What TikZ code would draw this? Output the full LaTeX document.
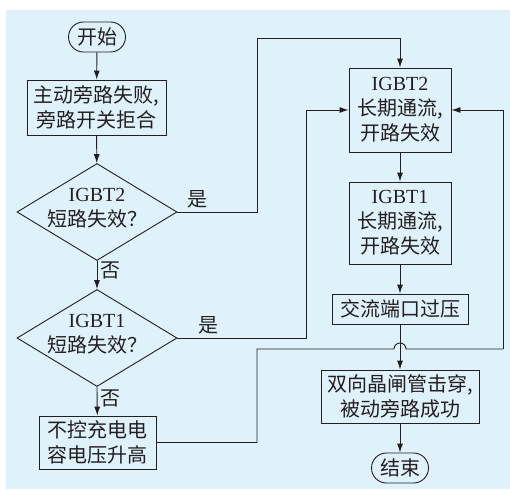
\documentclass[tikz,border=0pt]{standalone}
\usepackage{fontspec}
\setmainfont{Liberation Serif}
\newfontfamily\cjk{Noto Sans CJK SC}
\usetikzlibrary{shapes.geometric,arrows.meta,calc}
\definecolor{bgblue}{RGB}{223,241,250}
\definecolor{ink}{RGB}{35,31,32}
\tikzset{
  txt/.style={text=ink, font=\fontsize{20pt}{25pt}\selectfont},
  proc/.style={txt, draw=ink, line width=0.9pt, rectangle, align=center, inner sep=1pt},
  term/.style={proc, rounded corners=15pt, minimum width=57pt, minimum height=30pt},
  decide/.style={draw=ink, line width=0.9pt, diamond, minimum width=160pt, minimum height=97pt, inner sep=0pt},
  line/.style={draw=ink, line width=0.9pt},
  arr/.style={line, -{Latex[length=9pt,width=6pt]}}
}
\begin{document}
\begin{tikzpicture}[x=1pt, y=-1pt]
  \useasboundingbox (0,0) rectangle (510,489);
  \fill[bgblue] (6,10) rectangle (510,489);

  % left column
  \node[term] (start) at (97,37) {{\cjk 开始}};
  \node[proc, minimum width=139pt, minimum height=55pt] (bypass) at (96.5,107.5)
    {{\cjk 主动旁路失败,}\\{\cjk 旁路开关拒合}};
  \node[decide] (q2) at (97,212) {};
  \node[txt, align=center] (q2text) at (97,208) {IGBT2\\{\cjk 短路失效？}};
  \node[decide] (q1) at (97,338) {};
  \node[txt, align=center] (q1text) at (97,334) {IGBT1\\{\cjk 短路失效？}};
  \node[proc, minimum width=117pt, minimum height=53pt] (charge) at (97.5,442.5)
    {{\cjk 不控充电电}\\{\cjk 容电压升高}};

  % right column
  \node[proc, minimum width=102pt, minimum height=84pt] (open2) at (400,110)
    {IGBT2\\{\cjk 长期通流,}\\{\cjk 开路失效}};
  \node[proc, minimum width=102pt, minimum height=82pt] (open1) at (400,223)
    {IGBT1\\{\cjk 长期通流,}\\{\cjk 开路失效}};
  \node[proc, minimum width=136pt, minimum height=30pt] (overv) at (400,309)
    {{\cjk 交流端口过压}};
  \node[proc, minimum width=158pt, minimum height=53pt] (thyr) at (400,396.5)
    {{\cjk 双向晶闸管击穿,}\\{\cjk 被动旁路成功}};
  \node[term] (stop) at (400,468) {{\cjk 结束}};

  \coordinate (yes2) at (257,38);
  \coordinate (yes1) at (306,110);
  \coordinate (loop) at (257,349);
  \coordinate (back) at (503,349);

  % connectors
  \draw[arr] (start) -- (bypass);
  \draw[arr] (bypass) -- (q2);
  \draw[arr] (q2.south) -- node[txt, right, pos=0.35] (no2) {{\cjk 否}} (q1.north);
  \draw[arr] (q1.south) -- node[txt, right, pos=0.4] (no1) {{\cjk 否}} (charge);
  \draw[line] (q2.east) -| node[txt, above, pos=0.125] (is2) {{\cjk 是}} (yes2);
  \draw[arr] (yes2) -| (open2.north);
  \draw[line] (q1.east) -| node[txt, above, pos=0.12] (is1) {{\cjk 是}} (yes1);
  \draw[arr] (yes1) -- (open2.west);
  \draw[arr] (open2) -- (open1);
  \draw[arr] (open1) -- (overv);
  \draw[arr] (overv) -- (thyr);
  \draw[arr] (thyr) -- (stop);
  \draw[line] (charge.east) -| (loop)
    -- ($(overv.south |- loop)+(-6,0)$) arc (180:360:6) -- (back);
  \draw[arr] (back) |- (open2.east);
\end{tikzpicture}
\end{document}
